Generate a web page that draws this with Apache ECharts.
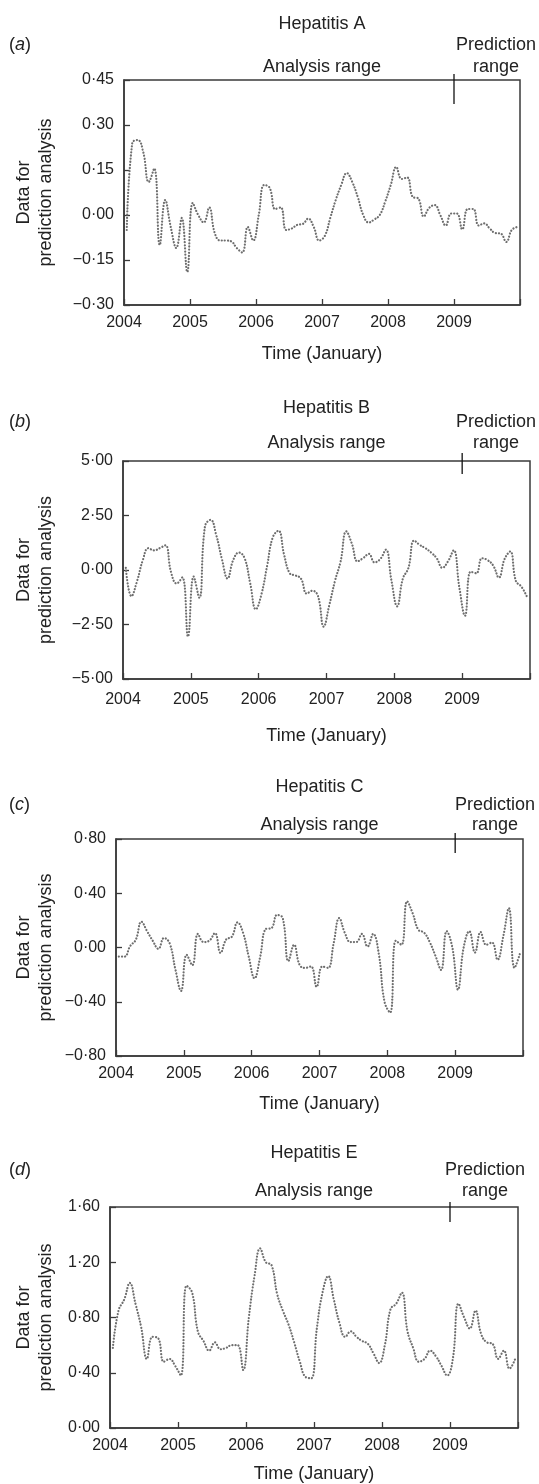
<!DOCTYPE html>
<html>
<head>
<meta charset="utf-8">
<script src="https://cdn.jsdelivr.net/npm/echarts/dist/echarts.min.js"></script>
<style>
html,body{margin:0;padding:0;background:#fff;}
#chart{width:539px;height:1484px;}
</style>
</head>
<body>
<div id="chart"></div>
<script>
// ---------- data ----------
const yearLabels = ['2004','2005','2006','2007','2008','2009'];
const panelTags = ['a','b','c','d'];
const panelTitles = ['Hepatitis A','Hepatitis B','Hepatitis C','Hepatitis E'];

// monthly values, Jan 2004 .. Dec 2009 (72 months)
const hepA = [
 -0.05, 0.24, 0.25, 0.21, 0.11, 0.155, -0.10, 0.05, -0.04, -0.11, -0.01, -0.19,
  0.04, 0.00, -0.025, 0.025, -0.06, -0.085, -0.085, -0.088, -0.11, -0.125, -0.04, -0.085,
  0.00, 0.10, 0.09, 0.02, 0.025, -0.05, -0.045, -0.033, -0.03, -0.012, -0.04, -0.085,
 -0.07, -0.01, 0.05, 0.10, 0.14, 0.11, 0.06, 0.00, -0.025, -0.015, 0.00, 0.045,
  0.10, 0.16, 0.12, 0.125, 0.06, 0.055, -0.005, 0.024, 0.033, 0.00, -0.035, 0.005,
  0.005, -0.048, 0.02, 0.02, -0.035, -0.028, -0.045, -0.06, -0.062, -0.09, -0.05, -0.04
];
const hepB = [
  0.1, -1.2, -0.5, 0.45, 1.0, 0.9, 1.0, 1.13, -0.1, -0.62, -0.34, -3.05,
 -0.3, -1.27, 2.0, 2.3, 1.6, 0.5, -0.39, 0.46, 0.8, 0.55, -0.6, -1.8,
 -1.1, 0.2, 1.5, 1.8, 0.7, -0.15, -0.25, -0.4, -1.08, -0.95, -1.2, -2.6,
 -1.6, -0.5, 0.4, 1.77, 1.2, 0.4, 0.55, 0.74, 0.35, 0.5, 0.93, -0.5,
 -1.67, -0.4, 0.1, 1.35, 1.15, 1.0, 0.8, 0.54, 0.1, 0.4, 0.9, -0.8,
 -2.1, -0.08, -0.15, 0.54, 0.45, 0.2, -0.35, 0.5, 0.85, -0.5, -0.77, -1.25
];
const hepC = [
 -0.067, -0.067, 0.01, 0.057, 0.19, 0.12, 0.05, -0.01, 0.07, 0.03, -0.16, -0.32,
 -0.054, -0.13, 0.10, 0.04, 0.05, 0.106, -0.04, 0.06, 0.08, 0.185, 0.106, -0.07,
 -0.227, -0.07, 0.136, 0.143, 0.24, 0.217, -0.10, 0.02, -0.13, -0.15, -0.14, -0.29,
 -0.14, -0.15, 0.03, 0.217, 0.106, 0.04, 0.04, 0.10, 0.007, 0.10, -0.05, -0.40,
 -0.48, 0.05, 0.02, 0.34, 0.25, 0.13, 0.11, 0.04, -0.06, -0.165, 0.12, 0.00,
 -0.31, 0.00, 0.12, -0.037, 0.114, 0.02, 0.037, -0.09, 0.08, 0.29, -0.15, -0.04
];
const hepE = [
  0.58, 0.85, 0.93, 1.05, 0.90, 0.73, 0.50, 0.66, 0.65, 0.48, 0.50, 0.45,
  0.38, 1.03, 0.98, 0.70, 0.63, 0.56, 0.62, 0.57, 0.58, 0.60, 0.60, 0.42,
  0.80, 1.10, 1.30, 1.20, 1.18, 0.97, 0.85, 0.75, 0.62, 0.48, 0.37, 0.36,
  0.72, 0.98, 1.10, 0.93, 0.76, 0.66, 0.70, 0.66, 0.63, 0.61, 0.54, 0.47,
  0.60, 0.86, 0.90, 0.98, 0.70, 0.58, 0.48, 0.50, 0.56, 0.52, 0.45, 0.38,
  0.50, 0.90, 0.80, 0.72, 0.85, 0.68, 0.62, 0.61, 0.50, 0.56, 0.43, 0.50
];
const seriesValues = [hepA, hepB, hepC, hepE];

// y-axis tick labels (bottom -> top)
const yTicksA = ['\u22120\u00b730','\u22120\u00b715','0\u00b700','0\u00b715','0\u00b730','0\u00b745'];
const yTicksB = ['\u22125\u00b700','\u22122\u00b750','0\u00b700','2\u00b750','5\u00b700'];
const yTicksC = ['\u22120\u00b780','\u22120\u00b740','0\u00b700','0\u00b740','0\u00b780'];
const yTicksE = ['0\u00b700','0\u00b740','0\u00b780','1\u00b720','1\u00b760'];
const yTickLabels = [yTicksA, yTicksB, yTicksC, yTicksE];
const yRanges = [[-0.30, 0.45, 0.15], [-5, 5, 2.5], [-0.8, 0.8, 0.4], [0, 1.6, 0.4]];

// month axis: 0 = Jan 2004 start, 72 = end of Dec 2009; prediction starts at month 60
const predictionStart = 60;

// ---------- layout ----------
const FONT = '"Liberation Sans", Arial, Helvetica, sans-serif';
const layout = [
  {left:124, top:80,   width:396, height:225, titleY:24,   predY:45,   anaY:67,   rangeX:496, up:6, down:24, lblMargin:10, nameGap:40},
  {left:123, top:461,  width:407, height:218, titleY:408,  predY:422,  anaY:443,  rangeX:496, up:8, down:13, lblMargin:13, nameGap:48},
  {left:116, top:839,  width:407, height:217, titleY:787,  predY:805,  anaY:825,  rangeX:495, up:6, down:14, lblMargin:10, nameGap:39},
  {left:110, top:1207, width:408, height:221, titleY:1153, predY:1170, anaY:1191, rangeX:485, up:5, down:15, lblMargin:10, nameGap:37}
];

const chart = echarts.init(document.getElementById('chart'), null, {renderer:'canvas'});

const grids = [], xAxes = [], yAxes = [], series = [];
layout.forEach((L, k) => {
  const [ymin, ymax, yint] = yRanges[k];
  grids.push({left:L.left, top:L.top, width:L.width, height:L.height, show:true,
              borderColor:'#3a3a3a', borderWidth:1.5, backgroundColor:'transparent'});
  xAxes.push({
    gridIndex:k, type:'value', min:0, max:72, interval:12, position:'bottom',
    axisLine:{show:true, onZero:false, lineStyle:{color:'#3a3a3a', width:1.5}},
    axisTick:{show:true, inside:true, length:6, lineStyle:{color:'#3a3a3a', width:1.3}},
    axisLabel:{margin:L.lblMargin, color:'#222', fontSize:16, fontFamily:FONT,
               formatter:v => { const j = Math.round(v/12); return (j < yearLabels.length) ? yearLabels[j] : ''; }},
    splitLine:{show:false},
    name:'Time (January)', nameLocation:'middle', nameGap:L.nameGap,
    nameTextStyle:{color:'#222', fontSize:18, fontFamily:FONT}
  });
  yAxes.push({
    gridIndex:k, type:'value', min:ymin, max:ymax, interval:yint, position:'left',
    axisLine:{show:true, onZero:false, lineStyle:{color:'#3a3a3a', width:1.5}},
    axisTick:{show:true, inside:true, length:6, lineStyle:{color:'#3a3a3a', width:1.3}},
    axisLabel:{margin:10, color:'#222', fontSize:16, fontFamily:FONT,
               formatter:v => yTickLabels[k][Math.round((v - ymin)/yint)] || ''},
    splitLine:{show:false}
  });
  series.push({
    type:'line', xAxisIndex:k, yAxisIndex:k,
    data: seriesValues[k].map((v, i) => [i + 0.5, v]),
    showSymbol:false, smooth:0.45, silent:true, animation:false,
    lineStyle:{color:'#6e6e6e', width:2.2, type:[0.1, 3], cap:'round'}
  });
});

chart.setOption({
  animation:false,
  backgroundColor:'#fff',
  grid:grids, xAxis:xAxes, yAxis:yAxes, series:series
});

// ---------- annotations ----------
function txt(x, y, text, size) {
  return {
    type:'text', x:x, y:y, silent:true,
    style:{text:text, fill:'#222', fontSize:size, fontFamily:FONT,
      textAlign:'center', textVerticalAlign:'middle', align:'center', verticalAlign:'middle'}
  };
}
const graphics = [];
layout.forEach((L, k) => {
  const [ymin, ymax] = yRanges[k];
  const cx = L.left + L.width/2;
  const cy = L.top + L.height/2;
  graphics.push(txt(cx, L.titleY, panelTitles[k], 18));
  graphics.push(txt(cx, L.anaY, 'Analysis range', 18));
  graphics.push(txt(L.rangeX, L.predY, 'Prediction', 18));
  graphics.push(txt(L.rangeX, L.anaY, 'range', 18));
  graphics.push({type:'text', x:9, y:L.predY, silent:true,
    style:{text:'({i|' + panelTags[k] + '})', fill:'#222', fontSize:18, fontFamily:FONT,
      textAlign:'left', textVerticalAlign:'middle', align:'left', verticalAlign:'middle',
      rich:{i:{fontStyle:'italic', fontSize:18, fontFamily:FONT, fill:'#222', color:'#222'}}}});
  graphics.push({type:'text', x:35, y:cy, rotation:Math.PI/2, silent:true,
    style:{text:'Data for\nprediction analysis', fill:'#222', fontSize:18, fontFamily:FONT, lineHeight:22,
      textAlign:'center', textVerticalAlign:'middle', align:'center', verticalAlign:'middle'}});
  const p = chart.convertToPixel({xAxisIndex:k, yAxisIndex:k}, [predictionStart, ymax]);
  graphics.push({type:'line', silent:true,
    shape:{x1:p[0], y1:p[1] - L.up, x2:p[0], y2:p[1] + L.down},
    style:{stroke:'#111', lineWidth:1.3}});
});
chart.setOption({graphic:graphics});
</script>
</body>
</html>
